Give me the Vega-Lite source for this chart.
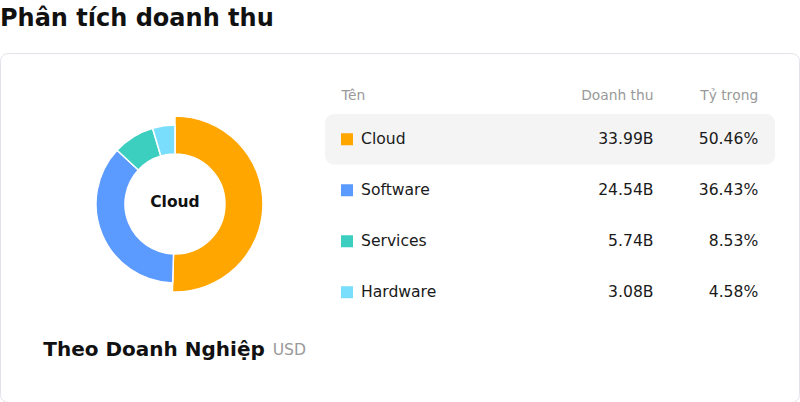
{
  "$schema": "https://vega.github.io/schema/vega-lite/v6.json",
  "width": 799,
  "height": 349,
  "padding": {"left": 0, "top": 7, "right": 1, "bottom": 1},
  "title": {
    "text": "Phân tích doanh thu",
    "anchor": "start",
    "fontSize": 24,
    "fontWeight": "bold",
    "color": "#111111",
    "offset": 22
  },
  "view": {"stroke": "#e2e2ea", "strokeWidth": 1, "cornerRadius": 8},
  "datasets": {
    "revenue": [
      {"cat": "Cloud", "revenue": 33.99, "share": 0.5046},
      {"cat": "Software", "revenue": 24.54, "share": 0.3643},
      {"cat": "Services", "revenue": 5.74, "share": 0.0853},
      {"cat": "Hardware", "revenue": 3.08, "share": 0.0458}
    ]
  },
  "data": {"name": "revenue"},
  "layer": [
    {
      "encoding": {
        "x": {"datum": 0.219, "type": "quantitative", "scale": {"domain": [0, 1], "nice": false, "zero": false}, "axis": null},
        "y": {"datum": 0.4327, "type": "quantitative", "scale": {"domain": [0, 1], "nice": false, "zero": false, "reverse": true}, "axis": null}
      },
      "layer": [
        {
          "mark": {
            "type": "arc",
            "innerRadius": 50,
            "outerRadius": {"expr": "datum.cat === 'Cloud' ? 88 : 79"},
            "stroke": "#ffffff",
            "strokeWidth": 1.5
          },
          "encoding": {
            "theta": {"field": "revenue", "type": "quantitative", "stack": true},
            "order": {"field": "revenue", "sort": "descending"},
            "color": {
              "field": "cat",
              "type": "nominal",
              "scale": {
                "domain": ["Cloud", "Software", "Services", "Hardware"],
                "range": ["#ffa600", "#5b9aff", "#3ccfc0", "#78defb"]
              },
              "legend": null
            }
          }
        },
        {
          "transform": [{"filter": "datum.cat === 'Cloud'"}],
          "mark": {"type": "text", "fontSize": 15.5, "fontWeight": "bold", "color": "#111111", "baseline": "middle", "dy": -2},
          "encoding": {"text": {"field": "cat", "type": "nominal"}}
        },
        {
          "data": {"values": [{"label": "Theo Doanh Nghiệp"}]},
          "mark": {"type": "text", "fontSize": 20, "fontWeight": "bold", "color": "#111111", "align": "left", "baseline": "middle"},
          "encoding": {
            "x": {"datum": 0.0542, "type": "quantitative"},
            "y": {"datum": 0.852, "type": "quantitative"},
            "text": {"field": "label", "type": "nominal"}
          }
        },
        {
          "data": {"values": [{"label": "USD"}]},
          "mark": {"type": "text", "fontSize": 15.6, "color": "#999999", "align": "left", "baseline": "middle"},
          "encoding": {
            "x": {"datum": 0.3413, "type": "quantitative"},
            "y": {"datum": 0.852, "type": "quantitative"},
            "text": {"field": "label", "type": "nominal"}
          }
        }
      ]
    },
    {
      "encoding": {
        "y": {
          "field": "cat",
          "type": "nominal",
          "scale": {
            "domain": ["Cloud", "Software", "Services", "Hardware"],
            "range": [61, 264.5],
            "paddingInner": 0.01,
            "paddingOuter": 0
          },
          "axis": null
        }
      },
      "layer": [
        {
          "transform": [{"filter": "datum.cat === 'Cloud'"}],
          "mark": {"type": "rect", "color": "#f4f4f5", "cornerRadius": 9},
          "encoding": {
            "x": {"datum": 0.4068, "type": "quantitative"},
            "x2": {"datum": 0.97}
          }
        },
        {
          "mark": {"type": "square", "size": 144, "filled": true, "opacity": 1},
          "encoding": {
            "x": {"datum": 0.4343, "type": "quantitative"},
            "color": {"field": "cat", "type": "nominal", "legend": null}
          }
        },
        {
          "mark": {"type": "text", "fontSize": 15.6, "color": "#1a1a1a", "align": "left", "baseline": "middle"},
          "encoding": {
            "x": {"datum": 0.4518, "type": "quantitative"},
            "text": {"field": "cat", "type": "nominal"}
          }
        },
        {
          "mark": {
            "type": "text",
            "fontSize": 15.6,
            "color": "#1a1a1a",
            "align": "right",
            "baseline": "middle",
            "text": {"expr": "format(datum.revenue, '.2f') + 'B'"}
          },
          "encoding": {
            "x": {"datum": 0.8179, "type": "quantitative"}
          }
        },
        {
          "mark": {"type": "text", "fontSize": 15.6, "color": "#1a1a1a", "align": "right", "baseline": "middle"},
          "encoding": {
            "x": {"datum": 0.949, "type": "quantitative"},
            "text": {"field": "share", "type": "quantitative", "format": ".2%"}
          }
        },
        {
          "data": {"values": [{"col": "Tên"}]},
          "mark": {"type": "text", "fontSize": 13.8, "color": "#999999", "align": "left", "baseline": "middle", "dy": -43},
          "encoding": {
            "x": {"datum": 0.4274, "type": "quantitative"},
            "y": {"datum": "Cloud", "type": "nominal"},
            "text": {"field": "col", "type": "nominal"}
          }
        },
        {
          "data": {"values": [{"col": "Doanh thu"}]},
          "mark": {"type": "text", "fontSize": 13.8, "color": "#999999", "align": "right", "baseline": "middle", "dy": -43},
          "encoding": {
            "x": {"datum": 0.8179, "type": "quantitative"},
            "y": {"datum": "Cloud", "type": "nominal"},
            "text": {"field": "col", "type": "nominal"}
          }
        },
        {
          "data": {"values": [{"col": "Tỷ trọng"}]},
          "mark": {"type": "text", "fontSize": 13.8, "color": "#999999", "align": "right", "baseline": "middle", "dy": -43},
          "encoding": {
            "x": {"datum": 0.949, "type": "quantitative"},
            "y": {"datum": "Cloud", "type": "nominal"},
            "text": {"field": "col", "type": "nominal"}
          }
        }
      ]
    }
  ],
  "resolve": {"scale": {"y": "independent"}},
  "config": {
    "font": "DejaVu Sans",
    "title": {"font": "DejaVu Sans"},
    "text": {"font": "DejaVu Sans"}
  }
}
